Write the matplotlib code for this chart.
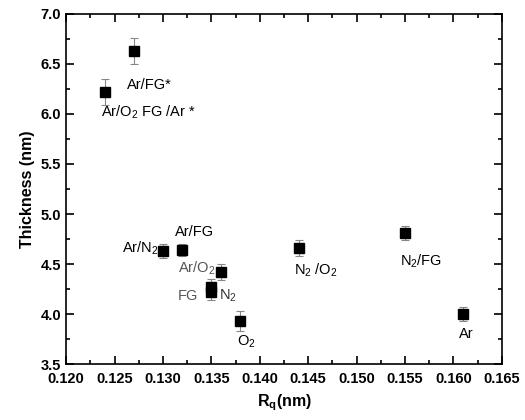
import numpy as np
import matplotlib
matplotlib.use("Agg")
import matplotlib.pyplot as plt
from matplotlib.ticker import MultipleLocator

plt.rcParams['font.family'] = ['Liberation Sans', 'DejaVu Sans']
plt.rcParams['mathtext.fontset'] = 'custom'
plt.rcParams['mathtext.rm'] = 'Liberation Sans'

# data
rq = [0.124, 0.127, 0.130, 0.132, 0.136, 0.135, 0.135, 0.138, 0.144, 0.155, 0.161]
thickness = [6.22, 6.63, 4.63, 4.64, 4.42, 4.22, 4.27, 3.93, 4.66, 4.81, 4.00]
err = [0.13, 0.13, 0.07, 0.06, 0.08, 0.08, 0.08, 0.10, 0.08, 0.07, 0.07]

labels = [r"Ar/FG*", r"Ar/O$_2$ FG /Ar *", r"Ar/N$_2$", r"Ar/FG", r"Ar/O$_2$",
          r"FG", r"N$_2$", r"O$_2$", r"N$_2$ /O$_2$", r"N$_2$/FG", r"Ar"]
label_x = [0.1286, 0.1285, 0.1295, 0.1333, 0.1335, 0.1326, 0.1367, 0.1386, 0.1458, 0.1567, 0.1613]
label_y = [6.29, 6.02, 4.66, 4.82, 4.46, 4.18, 4.18, 3.72, 4.44, 4.53, 3.80]
label_ha = ['center', 'center', 'right', 'center', 'center', 'center', 'center',
            'center', 'center', 'center', 'center']
label_col = ['black', 'black', 'black', 'black', '#555555', '#555555', '#333333',
             'black', 'black', 'black', 'black']

fig = plt.figure(figsize=(5.25, 4.2), dpi=100)
ax = fig.add_axes([0.126, 0.133, 0.83, 0.834])

ax.errorbar(rq, thickness, yerr=err, fmt='s', color='black', markersize=6.5,
            ecolor='#888888', elinewidth=0.8, capsize=3, capthick=0.8)

for lx, ly, t, ha, c in zip(label_x, label_y, labels, label_ha, label_col):
    ax.text(lx, ly, t, ha=ha, va='center', fontsize=10.5, color=c)

ax.set_xlim(0.120, 0.165)
ax.set_ylim(3.5, 7.0)
ax.xaxis.set_major_locator(MultipleLocator(0.005))
ax.xaxis.set_minor_locator(MultipleLocator(0.0025))
ax.yaxis.set_major_locator(MultipleLocator(0.5))
ax.yaxis.set_minor_locator(MultipleLocator(0.25))
ax.xaxis.set_major_formatter(matplotlib.ticker.FormatStrFormatter('%.3f'))
ax.yaxis.set_major_formatter(matplotlib.ticker.FormatStrFormatter('%.1f'))
ax.tick_params(which='both', direction='in', top=True, right=True, width=1.2)
ax.tick_params(which='major', length=6, labelsize=10.5)
ax.tick_params(which='minor', length=3)
ax.tick_params(axis='x', pad=6)
for lab in ax.get_xticklabels() + ax.get_yticklabels():
    lab.set_fontweight('bold')
for s in ax.spines.values():
    s.set_linewidth(1.2)

ax.set_xlabel(r"R$_\mathregular{q}$(nm)", fontsize=11.5, fontweight='bold', labelpad=4)
ax.set_ylabel("Thickness (nm)", fontsize=11.5, fontweight='bold', labelpad=4)

fig.savefig("out.png", dpi=100)
